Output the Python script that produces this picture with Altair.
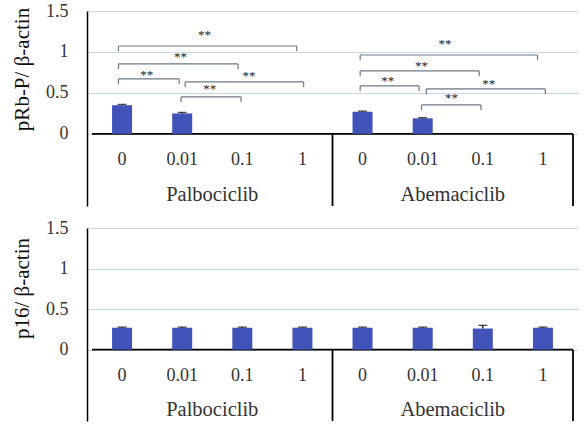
import altair as alt
import pandas as pd

# ---- data ----
categories = ["0", "0.01", "0.1", "1", "0", "0.01", "0.1", "1"]
groups = ["Palbociclib", "Abemaciclib"]
group_centers = [1.5, 5.5]

prb_values = [0.35, 0.25, None, None, 0.27, 0.19, None, None]
prb_errors = [0.01, 0.012, None, None, 0.008, 0.008, None, None]

p16_values = [0.27, 0.27, 0.27, 0.27, 0.27, 0.27, 0.26, 0.27]
p16_errors = [0.008, 0.008, 0.008, 0.008, 0.008, 0.008, 0.04, 0.008]

# significance brackets (top panel), in category-index units
br_x1 = [-0.06, -0.06, -0.06, 1.05, 0.98, 3.96, 3.96, 3.96, 5.06, 4.98]
br_x2 = [2.905, 1.93, 0.95, 3.02, 1.98, 6.91, 5.94, 4.94, 7.04, 5.97]
br_y = [1.073, 0.854, 0.671, 0.634, 0.451, 0.963, 0.768, 0.585, 0.549, 0.354]
star_x = [1.37, 0.97, 0.41, 2.11, 1.46, 5.37, 4.98, 4.42, 6.10, 5.48]
star_y = [1.23, 0.963, 0.744, 0.732, 0.573, 1.122, 0.854, 0.671, 0.634, 0.463]
star_text = ["**"] * 10

# ---- styling ----
FONT = "'Liberation Serif', 'Times New Roman', 'DejaVu Serif', serif"
BAR = "#4152b8"
GRID = "#c6d6e3"
BRACKET = "#6b7885"
YMIN, YMAX = -0.88, 1.5
W = 491

xs = alt.Scale(domain=[-0.5, 7.5], nice=False, zero=False)
ys = alt.Scale(domain=[YMIN, YMAX], nice=False, zero=False)


def yaxis(title, title_y):
    return alt.Axis(
        values=[0, 0.5, 1, 1.5], format="~g", ticks=False, labelPadding=19,
        labelFont=FONT, labelFontSize=18, labelColor="#333333",
        grid=True, gridColor=GRID, gridWidth=1,
        domain=True, domainColor="black", domainWidth=1.5,
        title=title, titleFont=FONT, titleFontSize=21, titleFontWeight="normal",
        titleColor="#111111", titleX=-55, titleY=title_y, titleAngle=270,
        titleBaseline="bottom", titleAlign="center",
    )


def panel(values, errors, title, title_y, height, with_brackets):
    ax = yaxis(title, title_y)
    X = lambda f: alt.X(f, scale=xs, axis=None)
    Y = lambda f: alt.Y(f, scale=ys, axis=ax)

    idx = list(range(len(categories)))
    bars_df = pd.DataFrame({"idx": idx, "value": values, "err": errors}).dropna()
    bars_df["top"] = bars_df["value"] + bars_df["err"]

    bars = alt.Chart(bars_df).mark_bar(size=20, color=BAR).encode(
        x=X("idx:Q"), y=Y("value:Q"), y2=alt.datum(0))
    err_rule = alt.Chart(bars_df).mark_rule(color="black", strokeWidth=1.2).encode(
        x=X("idx:Q"), y=Y("value:Q"), y2="top:Q")
    err_cap = alt.Chart(bars_df).mark_tick(
        color="black", orient="horizontal", size=9, thickness=1.3).encode(
        x=X("idx:Q"), y=Y("top:Q"))

    base_df = pd.DataFrame({"x1": [-0.5], "x2": [7.5], "y": [0.0]})
    baseline = alt.Chart(base_df).mark_rule(color="black", strokeWidth=1.8).encode(
        x=X("x1:Q"), x2="x2:Q", y=Y("y:Q"))

    sep_df = pd.DataFrame({"x": [3.5, 7.5], "y1": [0.0, 0.0], "y2": [YMIN, YMIN]})
    seps = alt.Chart(sep_df).mark_rule(color="black", strokeWidth=1.8).encode(
        x=X("x:Q"), y=Y("y1:Q"), y2="y2:Q")

    cat_df = pd.DataFrame({"idx": idx, "label": categories, "y": [-0.32] * 8})
    cat_text = alt.Chart(cat_df).mark_text(
        font=FONT, fontSize=18, color="#333333", baseline="middle").encode(
        x=X("idx:Q"), y=Y("y:Q"), text="label:N")

    grp_df = pd.DataFrame({"x": group_centers, "label": groups, "y": [-0.75] * 2})
    grp_text = alt.Chart(grp_df).mark_text(
        font=FONT, fontSize=20.5, color="#333333", baseline="middle").encode(
        x=X("x:Q"), y=Y("y:Q"), text="label:N")

    layers = [baseline, bars, err_rule, err_cap, seps, cat_text, grp_text]

    if with_brackets:
        br_df = pd.DataFrame({"x1": br_x1, "x2": br_x2, "y": br_y})
        br_df["yl"] = br_df["y"] - 0.065
        hline = alt.Chart(br_df).mark_rule(color=BRACKET, strokeWidth=1.2).encode(
            x=X("x1:Q"), x2="x2:Q", y=Y("y:Q"))
        leg1 = alt.Chart(br_df).mark_rule(color=BRACKET, strokeWidth=1.2).encode(
            x=X("x1:Q"), y=Y("y:Q"), y2="yl:Q")
        leg2 = alt.Chart(br_df).mark_rule(color=BRACKET, strokeWidth=1.2).encode(
            x=X("x2:Q"), y=Y("y:Q"), y2="yl:Q")
        st_df = pd.DataFrame({"x": star_x, "y": star_y, "t": star_text})
        stars = alt.Chart(st_df).mark_text(
            font=FONT, fontSize=13, color="#222222", baseline="alphabetic", dy=6).encode(
            x=X("x:Q"), y=Y("y:Q"), text="t:N")
        layers += [hline, leg1, leg2, stars]

    return alt.layer(*layers).properties(width=W, height=height)


top = panel(prb_values, prb_errors, "pRb-P/ β-actin", 58, 195, True)
bottom = panel(p16_values, p16_errors, "p16/ β-actin", 60, 193, False)

chart = alt.vconcat(top, bottom, spacing=22, bounds="flush").properties(
    padding={"left": 11, "top": 2, "right": 5, "bottom": 5},
    background="white",
).configure_view(stroke=None)

chart.save("out.html", embed_options={"renderer": "svg", "actions": False})
